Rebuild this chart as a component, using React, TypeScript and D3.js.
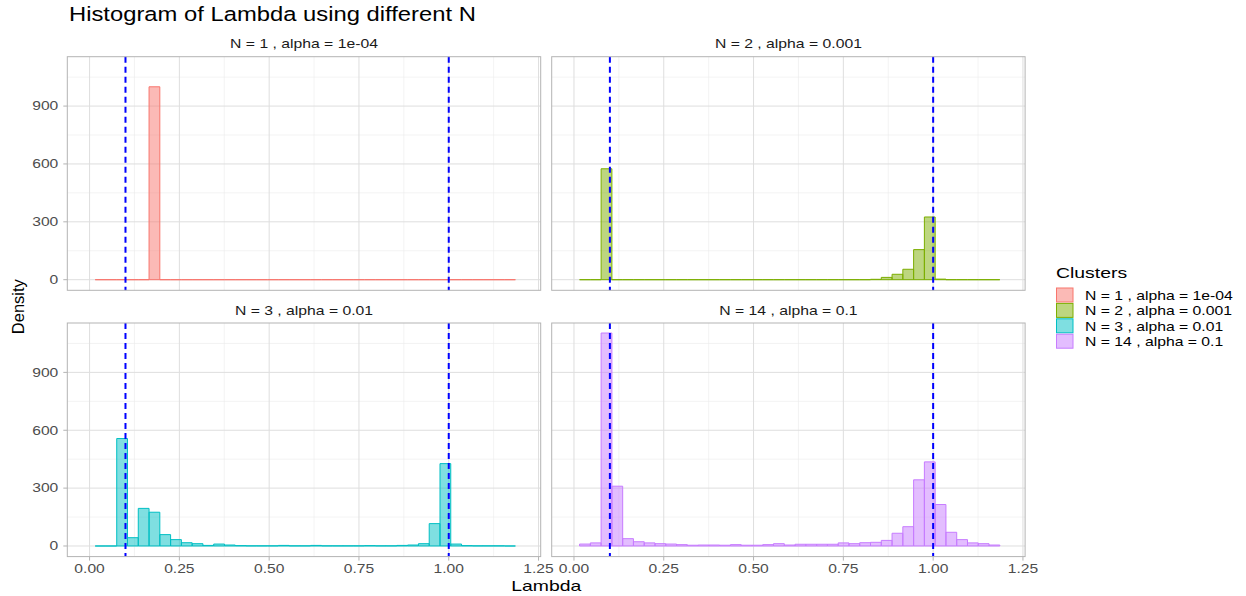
import React from 'react';
import * as d3 from 'd3';

// histogram settings (bin width 0.03, first bin edge at 0.0156)
const binStart = 0.0156;
const binWidth = 0.03;

const clusterLabels = [
  'N = 1 , alpha = 1e-04',
  'N = 2 , alpha = 0.001',
  'N = 3 , alpha = 0.01',
  'N = 14 , alpha = 0.1',
];
const clusterColors = ['#F8766D', '#7CAE00', '#00BFC4', '#C77CFF'];

// density per bin
const densityN1 = [0, 0, 0, 0, 0, 1000, 0, 0, 0, 0, 0, 0, 0, 0, 0, 0, 0, 0, 0, 0, 0, 0, 0, 0, 0, 0, 0, 0, 0, 0, 0, 0, 0, 0, 0, 0, 0, 0, 0];
const densityN2 = [0, 0, 575, 0, 0, 0, 0, 0, 0, 0, 0, 0, 0, 0, 0, 0, 0, 0, 0, 0, 0, 0, 0, 0, 0, 0, 0, 2, 12, 28, 54, 156, 325, 3, 0, 0, 0, 0, 0];
const densityN3 = [0, 0, 557, 43, 195, 175, 59, 33, 17, 12, 3, 10, 5, 2, 1, 1, 1, 3, 1, 1, 3, 1, 1, 1, 1, 2, 1, 1, 3, 5, 12, 116, 427, 10, 2, 1, 1, 1, 0];
const densityN14 = [10, 16, 1104, 310, 38, 22, 16, 12, 10, 7, 4, 5, 5, 4, 7, 4, 4, 7, 12, 5, 9, 9, 9, 9, 16, 12, 17, 19, 29, 66, 100, 343, 436, 215, 71, 33, 16, 12, 5];
const densities = [densityN1, densityN2, densityN3, densityN14];

const refLines = [0.1, 1.0];
const xTicks = [0, 0.25, 0.5, 0.75, 1.0, 1.25];
const xMinor = [0.125, 0.375, 0.625, 0.875, 1.125];
const yTicks = [0, 300, 600, 900];
const yMinor = [150, 450, 750, 1050];

const xDomain = [-0.062, 1.256];
const yDomain = [-55, 1156];

const W = 1246;
const H = 596;
const panelW = 473.4;
const panelH = 233.6;
const panelX = [67.3, 551.7];
const panelY = [56.7, 323];

const font = '"Liberation Sans", Arial, Helvetica, sans-serif';
// text in the picture is drawn wider than it is tall
const stretch = 1.26;

type TProps = {
  x: number;
  y: number;
  size: number;
  sx?: number;
  anchor?: 'start' | 'middle' | 'end';
  fill?: string;
  children: React.ReactNode;
};

const SText = ({ x, y, size, sx = stretch, anchor = 'start', fill = '#000', children }: TProps) => (
  <text transform={`translate(${x},${y}) scale(${sx},1)`} textAnchor={anchor} fontSize={size} fill={fill}>
    {children}
  </text>
);

const Panel = ({ idx }: { idx: number }) => {
  const col = idx % 2;
  const row = Math.floor(idx / 2);
  const x0 = panelX[col];
  const y0 = panelY[row];
  const x = d3.scaleLinear().domain(xDomain).range([x0, x0 + panelW]);
  const y = d3.scaleLinear().domain(yDomain).range([y0 + panelH, y0]);
  const color = clusterColors[idx];
  const vals = densities[idx];

  return (
    <g>
      {xMinor.map((t) => (
        <line key={'xm' + t} x1={x(t)} x2={x(t)} y1={y0} y2={y0 + panelH} stroke="#ebebeb" strokeWidth={0.6} />
      ))}
      {yMinor.map((t) => (
        <line key={'ym' + t} x1={x0} x2={x0 + panelW} y1={y(t)} y2={y(t)} stroke="#ebebeb" strokeWidth={0.6} />
      ))}
      {xTicks.map((t) => (
        <line key={'xg' + t} x1={x(t)} x2={x(t)} y1={y0} y2={y0 + panelH} stroke="#dedede" strokeWidth={1} />
      ))}
      {yTicks.map((t) => (
        <line key={'yg' + t} x1={x0} x2={x0 + panelW} y1={y(t)} y2={y(t)} stroke="#dedede" strokeWidth={1} />
      ))}
      {vals.map((v, i) => {
        const a = x(binStart + i * binWidth);
        const b = x(binStart + (i + 1) * binWidth);
        const top = y(v);
        const base = y(0);
        return (
          <path
            key={'b' + i}
            d={`M${a},${base}H${b}V${top}H${a}Z`}
            fill={color}
            fillOpacity={0.5}
            stroke={color}
            strokeWidth={1}
          />
        );
      })}
      {refLines.map((r) => (
        <line key={'r' + r} x1={x(r)} x2={x(r)} y1={y0} y2={y0 + panelH} stroke="blue" strokeWidth={2} strokeDasharray="6,4" />
      ))}
      <rect x={x0} y={y0} width={panelW} height={panelH} fill="none" stroke="#b3b3b3" strokeWidth={1} />
      <SText x={x0 + panelW / 2} y={y0 - 8.5} size={12.5} anchor="middle" fill="#1a1a1a">
        {clusterLabels[idx]}
      </SText>
      {col === 0 &&
        yTicks.map((t) => (
          <g key={'yt' + t}>
            <line x1={x0 - 4} x2={x0} y1={y(t)} y2={y(t)} stroke="#b3b3b3" />
            <SText x={x0 - 9} y={y(t) + 4.3} size={12.4} anchor="end" fill="#4d4d4d">
              {t}
            </SText>
          </g>
        ))}
      {row === 1 &&
        xTicks.map((t) => (
          <g key={'xt' + t}>
            <line x1={x(t)} x2={x(t)} y1={y0 + panelH} y2={y0 + panelH + 4} stroke="#b3b3b3" />
            <SText x={x(t)} y={y0 + panelH + 16.5} size={12.4} anchor="middle" fill="#4d4d4d">
              {d3.format('.2f')(t)}
            </SText>
          </g>
        ))}
    </g>
  );
};

const App = () => {
  return (
    <div style={{ position: 'absolute', left: 0, top: 0 }}>
      <svg width={W} height={H} style={{ display: 'block', fontFamily: font }}>
        <rect width={W} height={H} fill="white" />
        <SText x={69} y={21} size={19.5} sx={1.22}>
          Histogram of Lambda using different N
        </SText>
        {[0, 1, 2, 3].map((i) => (
          <Panel key={i} idx={i} />
        ))}
        <SText x={(panelX[0] + panelX[1] + panelW) / 2} y={591} size={15.4} anchor="middle">
          Lambda
        </SText>
        <text
          transform={`translate(24,${(panelY[0] + panelY[1] + panelH) / 2}) rotate(-90)`}
          textAnchor="middle"
          fontSize={16.5}
          fill="#000"
        >
          Density
        </text>
        <g>
          <SText x={1056} y={278} size={15.4}>
            Clusters
          </SText>
          {clusterLabels.map((lab, i) => (
            <g key={lab}>
              <rect
                x={1056.5}
                y={288 + i * 15.4}
                width={16.5}
                height={14}
                fill={clusterColors[i]}
                fillOpacity={0.5}
                stroke={clusterColors[i]}
                strokeWidth={1}
              />
              <SText x={1085} y={300 + i * 15.4} size={12.5}>
                {lab}
              </SText>
            </g>
          ))}
        </g>
      </svg>
    </div>
  );
};

export default App;
